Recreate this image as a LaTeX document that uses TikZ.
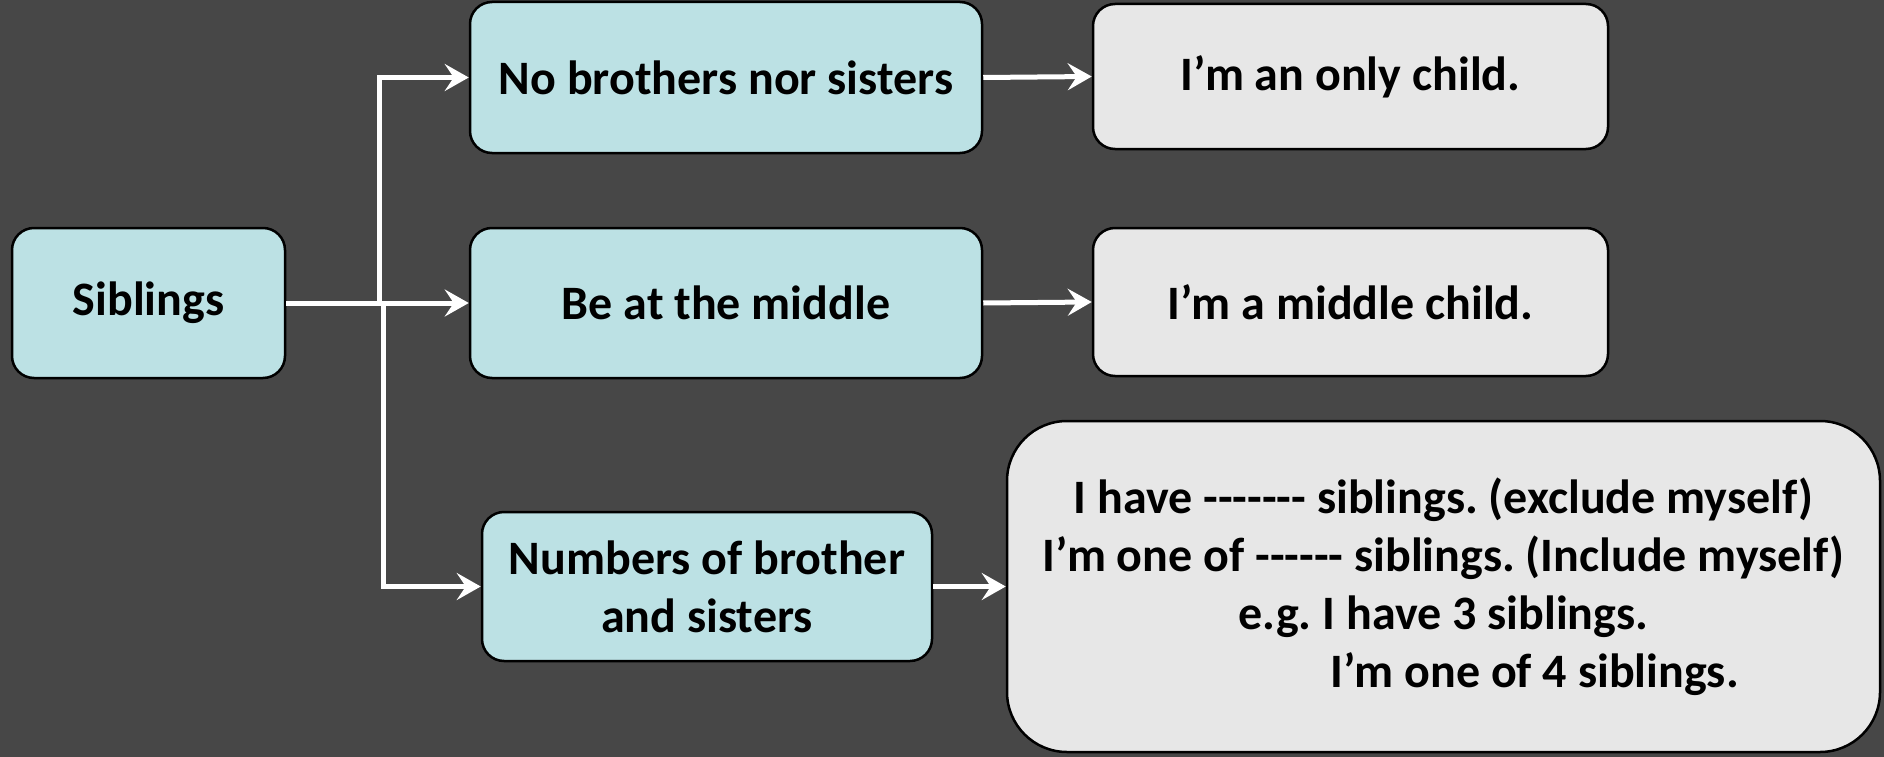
\documentclass[tikz,border=0pt]{standalone}
\usepackage{fontspec}
\setmainfont{Carlito}
\usetikzlibrary{arrows.meta}
\definecolor{bgc}{HTML}{474747}
\definecolor{tealc}{HTML}{BCE1E4}
\definecolor{greyc}{HTML}{E7E7E7}
\tikzset{
  box/.style={draw=black, line width=2.5pt, rounded corners=22pt, inner sep=0pt,
    font=\fontsize{48}{58}\selectfont\bfseries\frenchspacing, text=black, align=center},
  tealbox/.style={box, fill=tealc},
  greybox/.style={box, fill=greyc},
  conn/.style={draw=white, line width=5pt, -{Stealth[length=24pt,width=27pt,inset=9pt]}}
}
\begin{document}
\begin{tikzpicture}[x=1pt,y=-1pt]
\fill[bgc] (0,0) rectangle (1884,757);
\useasboundingbox (0,0) rectangle (1884,757);
\node[tealbox, minimum width=273pt, minimum height=150pt] (sib) at (148.5,303) {Siblings};
\node[tealbox, minimum width=512pt, minimum height=151pt] (nobro) at (726,77.5) {No brothers nor sisters};
\node[tealbox, minimum width=512pt, minimum height=150pt] (mid) at (726,303) {Be at the middle};
\node[tealbox, minimum width=450pt, minimum height=149pt] (num) at (707,586.5) {Numbers of brother\\and sisters};
\node[greybox, minimum width=515pt, minimum height=145pt] (only) at (1350.5,76.5) {I’m an only child.};
\node[greybox, minimum width=515pt, minimum height=148pt] (midc) at (1350.5,302) {I’m a middle child.};
\node[greybox, rounded corners=60pt, minimum width=873pt, minimum height=331pt] (big) at (1443.5,586.5)
  {I have -{}-{}-{}-{}-{}-{}- siblings. (exclude myself)\\
   I’m one of -{}-{}-{}-{}-{}- siblings. (Include myself)\\
   e.g. I have 3 siblings.\hspace{78pt}\\
   \hspace{182pt}I’m one of 4 siblings.};
\coordinate (j1) at (379,303);
\coordinate (j2) at (383,303);
\draw[conn] (sib.east) -- (mid.west);
\draw[conn] (j1) |- (nobro.west);
\draw[conn] (j2) |- (num.west);
\draw[conn] (nobro.east) -- (only.west);
\draw[conn] (mid.east) -- (midc.west);
\draw[conn] (num.east) -- (big.west);
\end{tikzpicture}
\end{document}
